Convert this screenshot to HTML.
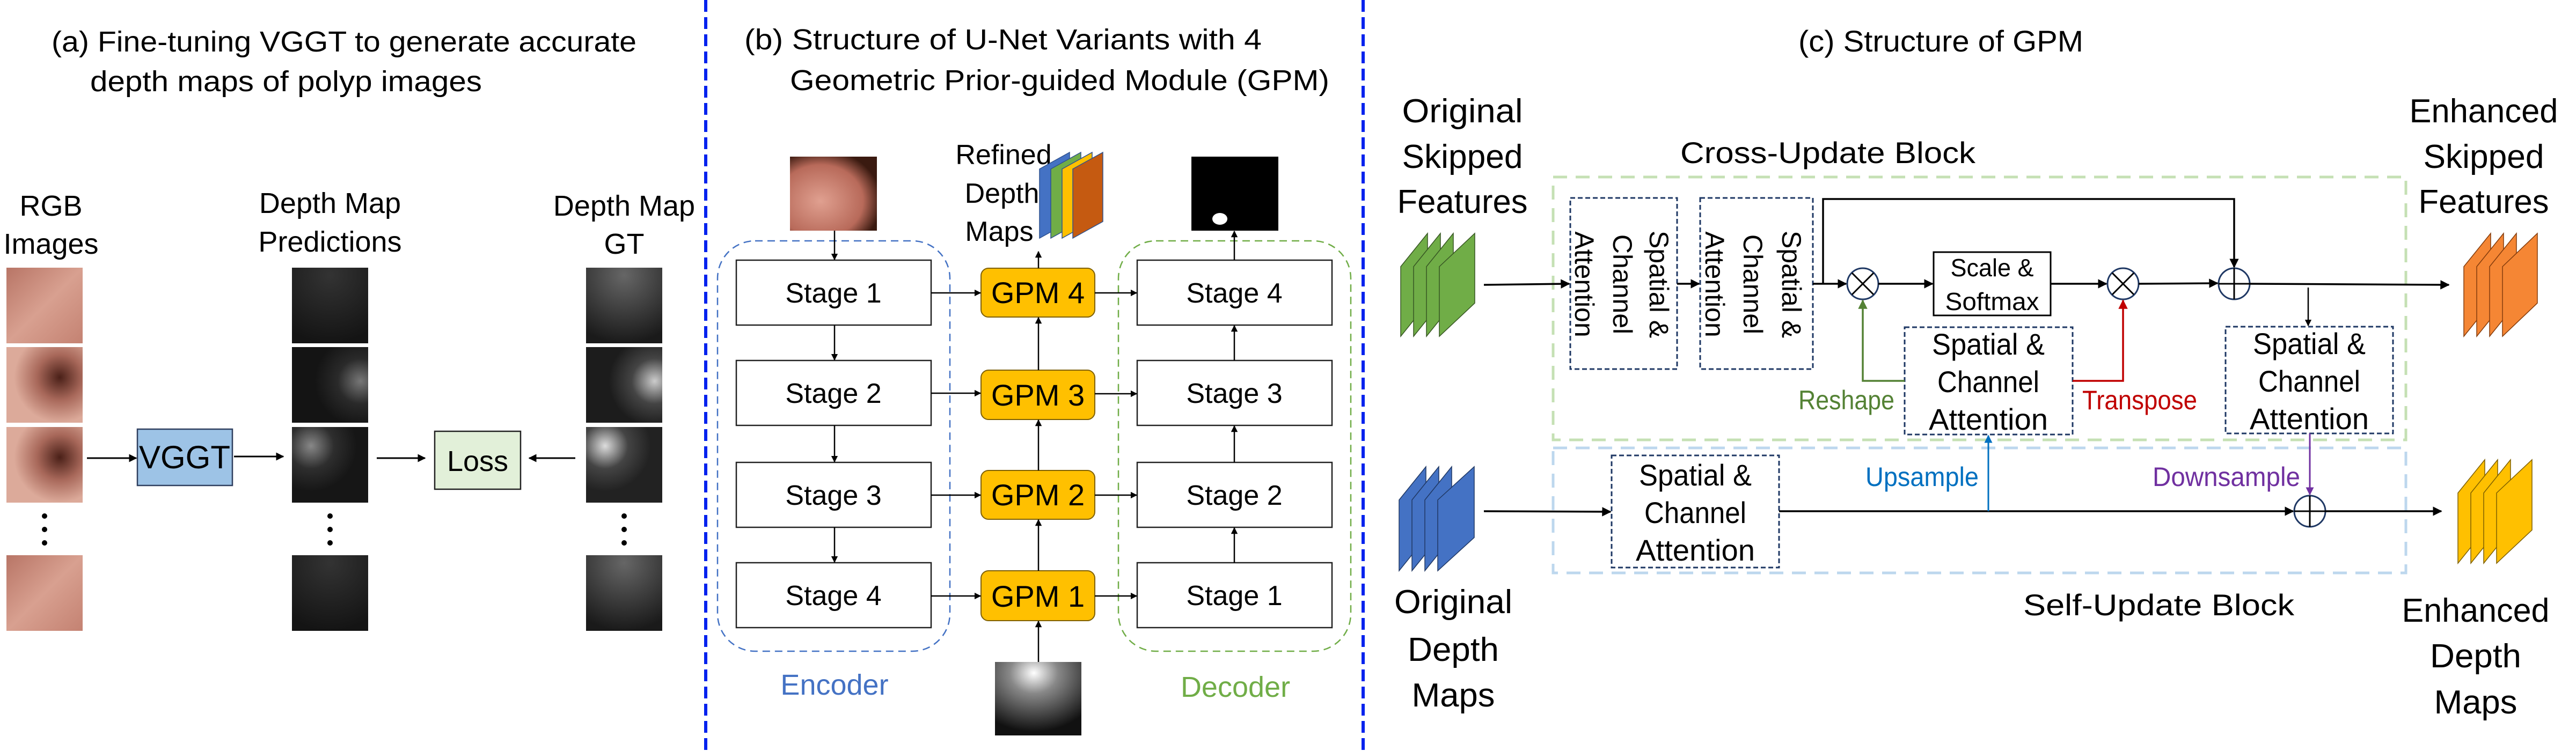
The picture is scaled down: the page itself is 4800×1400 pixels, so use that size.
<!DOCTYPE html>
<html><head><meta charset="utf-8"><style>html,body{margin:0;padding:0;background:#fff}svg{display:block}</style></head>
<body>
<svg width="4800" height="1400" viewBox="0 0 4800 1400" xmlns="http://www.w3.org/2000/svg" font-family="Liberation Sans, sans-serif">
<defs>
<marker id="ah" viewBox="0 0 10 10" refX="9" refY="5" markerWidth="5" markerHeight="5" orient="auto"><path d="M0,0L10,5L0,10z" fill="#000"/></marker>
<marker id="ahg" viewBox="0 0 10 10" refX="9" refY="5" markerWidth="5" markerHeight="5" orient="auto"><path d="M0,0L10,5L0,10z" fill="#548235"/></marker>
<marker id="ahr" viewBox="0 0 10 10" refX="9" refY="5" markerWidth="5" markerHeight="5" orient="auto"><path d="M0,0L10,5L0,10z" fill="#c00000"/></marker>
<marker id="ahb" viewBox="0 0 10 10" refX="9" refY="5" markerWidth="5" markerHeight="5" orient="auto"><path d="M0,0L10,5L0,10z" fill="#0070c0"/></marker>
<marker id="ahp" viewBox="0 0 10 10" refX="9" refY="5" markerWidth="5" markerHeight="5" orient="auto"><path d="M0,0L10,5L0,10z" fill="#7030a0"/></marker>
<linearGradient id="rgb" x1="0" y1="0" x2="1" y2="1"><stop offset="0" stop-color="#b87566"/><stop offset="0.5" stop-color="#d8a090"/><stop offset="1" stop-color="#c48272"/></linearGradient>
<radialGradient id="rgb2" cx="0.7" cy="0.4" r="0.6"><stop offset="0" stop-color="#4a2018"/><stop offset="0.5" stop-color="#a8685a"/><stop offset="1" stop-color="#dcaa9a"/></radialGradient>
<radialGradient id="d1" cx="0.5" cy="0.1" r="0.9"><stop offset="0" stop-color="#333"/><stop offset="1" stop-color="#141414"/></radialGradient>
<radialGradient id="d2" cx="0.9" cy="0.45" r="0.6"><stop offset="0" stop-color="#777"/><stop offset="0.5" stop-color="#2a2a2a"/><stop offset="1" stop-color="#141414"/></radialGradient>
<radialGradient id="d3" cx="0.25" cy="0.25" r="0.6"><stop offset="0" stop-color="#888"/><stop offset="0.5" stop-color="#2e2e2e"/><stop offset="1" stop-color="#161616"/></radialGradient>
<radialGradient id="g1" cx="0.5" cy="0.1" r="0.9"><stop offset="0" stop-color="#666"/><stop offset="1" stop-color="#1a1a1a"/></radialGradient>
<radialGradient id="g2" cx="0.9" cy="0.45" r="0.6"><stop offset="0" stop-color="#ccc"/><stop offset="0.5" stop-color="#444"/><stop offset="1" stop-color="#1c1c1c"/></radialGradient>
<radialGradient id="g3" cx="0.25" cy="0.25" r="0.6"><stop offset="0" stop-color="#ddd"/><stop offset="0.5" stop-color="#444"/><stop offset="1" stop-color="#222"/></radialGradient>
<radialGradient id="in" cx="0.35" cy="0.6" r="0.7"><stop offset="0" stop-color="#e0a090"/><stop offset="0.7" stop-color="#b86a5a"/><stop offset="1" stop-color="#3a1a10"/></radialGradient>
<radialGradient id="dp" cx="0.45" cy="0.15" r="0.8"><stop offset="0" stop-color="#fff"/><stop offset="0.35" stop-color="#888"/><stop offset="1" stop-color="#111"/></radialGradient>
</defs>

<line x1="1315" y1="0" x2="1315" y2="1400" stroke="#0022ee" stroke-width="6" stroke-dasharray="22,10"/>
<line x1="2540" y1="0" x2="2540" y2="1400" stroke="#0022ee" stroke-width="6" stroke-dasharray="22,10"/>

<!-- ===== Panel A ===== -->
<g font-size="54" fill="#000">
<text x="96" y="96" textLength="1090" lengthAdjust="spacingAndGlyphs">(a) Fine-tuning VGGT to generate accurate</text>
<text x="168" y="170" textLength="730" lengthAdjust="spacingAndGlyphs">depth maps of polyp images</text>
<g text-anchor="middle">
<text x="95" y="402">RGB</text><text x="95" y="473">Images</text>
<text x="615" y="397">Depth Map</text><text x="615" y="469">Predictions</text>
<text x="1163" y="402">Depth Map</text><text x="1163" y="473">GT</text>
</g>
</g>
<rect x="12" y="499" width="142" height="141" fill="url(#rgb)"/>
<rect x="12" y="647" width="142" height="141" fill="url(#rgb2)"/>
<rect x="12" y="796" width="142" height="141" fill="url(#rgb2)"/>
<rect x="12" y="1035" width="142" height="141" fill="url(#rgb)"/>
<rect x="544" y="499" width="142" height="141" fill="url(#d1)"/>
<rect x="544" y="647" width="142" height="141" fill="url(#d2)"/>
<rect x="544" y="796" width="142" height="141" fill="url(#d3)"/>
<rect x="544" y="1035" width="142" height="141" fill="url(#d1)"/>
<rect x="1092" y="499" width="142" height="141" fill="url(#g1)"/>
<rect x="1092" y="647" width="142" height="141" fill="url(#g2)"/>
<rect x="1092" y="796" width="142" height="141" fill="url(#g3)"/>
<rect x="1092" y="1035" width="142" height="141" fill="url(#g1)"/>
<g fill="#000">
<circle cx="83" cy="962" r="5"/><circle cx="83" cy="987" r="5"/><circle cx="83" cy="1012" r="5"/>
<circle cx="615" cy="962" r="5"/><circle cx="615" cy="987" r="5"/><circle cx="615" cy="1012" r="5"/>
<circle cx="1163" cy="962" r="5"/><circle cx="1163" cy="987" r="5"/><circle cx="1163" cy="1012" r="5"/>
</g>
<rect x="256" y="800" width="177" height="105" fill="#9dc3e6" stroke="#2f3f5f" stroke-width="2.5"/>
<text x="344" y="873" font-size="60" text-anchor="middle">VGGT</text>
<rect x="810" y="804" width="160" height="108" fill="#e2f0d9" stroke="#222" stroke-width="2.5"/>
<text x="890" y="878" font-size="54" text-anchor="middle">Loss</text>
<g stroke="#000" stroke-width="3" fill="none" marker-end="url(#ah)">
<line x1="162" y1="854" x2="254" y2="854"/>
<line x1="436" y1="851" x2="528" y2="851"/>
<line x1="702" y1="854" x2="792" y2="854"/>
<line x1="1072" y1="854" x2="986" y2="854"/>
</g>

<!-- ===== Panel B ===== -->
<text x="1387" y="92" font-size="54" textLength="964" lengthAdjust="spacingAndGlyphs">(b) Structure of U-Net Variants with 4</text>
<text x="1472" y="168" font-size="54" textLength="1005" lengthAdjust="spacingAndGlyphs">Geometric Prior-guided Module (GPM)</text>
<rect x="1472" y="292" width="162" height="138" fill="url(#in)"/>
<rect x="1337" y="449" width="433" height="765" rx="70" fill="none" stroke="#4472c4" stroke-width="2.5" stroke-dasharray="14,9"/>
<rect x="2084" y="449" width="433" height="765" rx="70" fill="none" stroke="#70ad47" stroke-width="2.5" stroke-dasharray="14,9"/>
<g fill="#fff" stroke="#222" stroke-width="2.5">
<rect x="1372" y="485" width="363" height="121"/><rect x="1372" y="672" width="363" height="121"/>
<rect x="1372" y="862" width="363" height="121"/><rect x="1372" y="1049" width="363" height="121"/>
<rect x="2119" y="485" width="363" height="121"/><rect x="2119" y="672" width="363" height="121"/>
<rect x="2119" y="862" width="363" height="121"/><rect x="2119" y="1049" width="363" height="121"/>
</g>
<g font-size="52" text-anchor="middle">
<text x="1553" y="564">Stage 1</text><text x="1553" y="751">Stage 2</text><text x="1553" y="941">Stage 3</text><text x="1553" y="1128">Stage 4</text>
<text x="2300" y="564">Stage 4</text><text x="2300" y="751">Stage 3</text><text x="2300" y="941">Stage 2</text><text x="2300" y="1128">Stage 1</text>
</g>
<g fill="#ffc000" stroke="#7f6000" stroke-width="2">
<rect x="1828" y="500" width="212" height="91" rx="14"/><rect x="1828" y="690" width="212" height="92" rx="14"/>
<rect x="1828" y="877" width="212" height="91" rx="14"/><rect x="1828" y="1064" width="212" height="93" rx="14"/>
</g>
<g font-size="56" text-anchor="middle">
<text x="1934" y="565">GPM 4</text><text x="1934" y="756">GPM 3</text><text x="1934" y="942">GPM 2</text><text x="1934" y="1131">GPM 1</text>
</g>
<g stroke="#000" stroke-width="2.5" fill="none" marker-end="url(#ah)">
<line x1="1555" y1="430" x2="1555" y2="484"/>
<line x1="1555" y1="606" x2="1555" y2="671"/><line x1="1555" y1="793" x2="1555" y2="861"/><line x1="1555" y1="983" x2="1555" y2="1048"/>
<line x1="1735" y1="546" x2="1827" y2="546"/><line x1="1735" y1="733" x2="1827" y2="733"/><line x1="1735" y1="923" x2="1827" y2="923"/><line x1="1735" y1="1111" x2="1827" y2="1111"/>
<line x1="2040" y1="546" x2="2118" y2="546"/><line x1="2040" y1="734" x2="2118" y2="734"/><line x1="2040" y1="923" x2="2118" y2="923"/><line x1="2040" y1="1111" x2="2118" y2="1111"/>
<line x1="1935" y1="1234" x2="1935" y2="1158"/><line x1="1935" y1="1064" x2="1935" y2="969"/><line x1="1935" y1="877" x2="1935" y2="783"/><line x1="1935" y1="690" x2="1935" y2="592"/>
<line x1="1935" y1="500" x2="1935" y2="469"/>
<line x1="2300" y1="1049" x2="2300" y2="984"/><line x1="2300" y1="862" x2="2300" y2="794"/><line x1="2300" y1="672" x2="2300" y2="607"/>
<line x1="2300" y1="485" x2="2300" y2="431"/>
</g>
<g font-size="52" text-anchor="middle">
<text x="1870" y="306">Refined</text><text x="1867" y="378">Depth</text><text x="1862" y="449">Maps</text>
</g>
<g stroke="#2f528f" stroke-width="1.5">
<polygon points="1937,315 1993,284 1993,413 1937,444" fill="#4472c4"/>
<polygon points="1958,315 2014,284 2014,413 1958,444" fill="#70ad47"/>
<polygon points="1979,315 2035,284 2035,413 1979,444" fill="#ffc000"/>
<polygon points="1999,315 2055,284 2055,413 1999,444" fill="#c55a11"/>
</g>
<rect x="2220" y="292" width="162" height="138" fill="#000"/>
<ellipse cx="2273" cy="408" rx="14" ry="11" fill="#fff"/>
<rect x="1854" y="1234" width="161" height="137" fill="url(#dp)"/>
<text x="1555" y="1295" font-size="54" fill="#4472c4" text-anchor="middle">Encoder</text>
<text x="2302" y="1299" font-size="54" fill="#70ad47" text-anchor="middle">Decoder</text>

<!-- ===== Panel C ===== -->
<g font-size="56">
<text x="3351" y="96" textLength="531" lengthAdjust="spacingAndGlyphs">(c) Structure of GPM</text>
<text x="3131" y="304" textLength="550" lengthAdjust="spacingAndGlyphs">Cross-Update Block</text>
<text x="3770" y="1147" textLength="505" lengthAdjust="spacingAndGlyphs">Self-Update Block</text>
</g>
<g font-size="62" text-anchor="middle">
<text x="2725" y="228" textLength="225" lengthAdjust="spacingAndGlyphs">Original</text>
<text x="2725" y="313" textLength="225" lengthAdjust="spacingAndGlyphs">Skipped</text>
<text x="2725" y="397" textLength="243" lengthAdjust="spacingAndGlyphs">Features</text>
<text x="4628" y="228" textLength="277" lengthAdjust="spacingAndGlyphs">Enhanced</text>
<text x="4628" y="313" textLength="225" lengthAdjust="spacingAndGlyphs">Skipped</text>
<text x="4628" y="397" textLength="243" lengthAdjust="spacingAndGlyphs">Features</text>
<text x="2708" y="1143" textLength="220" lengthAdjust="spacingAndGlyphs">Original</text>
<text x="2708" y="1232" textLength="170" lengthAdjust="spacingAndGlyphs">Depth</text>
<text x="2708" y="1317" textLength="155" lengthAdjust="spacingAndGlyphs">Maps</text>
<text x="4613" y="1159" textLength="275" lengthAdjust="spacingAndGlyphs">Enhanced</text>
<text x="4613" y="1244" textLength="170" lengthAdjust="spacingAndGlyphs">Depth</text>
<text x="4613" y="1330" textLength="155" lengthAdjust="spacingAndGlyphs">Maps</text>
</g>
<g stroke="#375623" stroke-width="1.5" fill="#70ad47">
<polygon points="2610,497 2660,435 2660,565 2610,627"/><polygon points="2634,497 2684,435 2684,565 2634,627"/>
<polygon points="2658,497 2708,435 2708,565 2658,627"/><polygon points="2682,497 2748,435 2748,565 2682,627"/>
</g>
<g stroke="#843c0c" stroke-width="1.5" fill="#f58634">
<polygon points="4591,497 4641,435 4641,565 4591,627"/><polygon points="4615,497 4665,435 4665,565 4615,627"/>
<polygon points="4639,497 4689,435 4689,565 4639,627"/><polygon points="4663,497 4728,435 4728,565 4663,627"/>
</g>
<g stroke="#203864" stroke-width="1.5" fill="#4472c4">
<polygon points="2607,932 2657,870 2657,1002 2607,1064"/><polygon points="2631,932 2681,870 2681,1002 2631,1064"/>
<polygon points="2655,932 2705,870 2705,1002 2655,1064"/><polygon points="2679,932 2747,870 2747,1002 2679,1064"/>
</g>
<g stroke="#7f6000" stroke-width="1.5" fill="#ffc000">
<polygon points="4580,919 4630,857 4630,988 4580,1050"/><polygon points="4604,919 4654,857 4654,988 4604,1050"/>
<polygon points="4628,919 4678,857 4678,988 4628,1050"/><polygon points="4652,919 4718,857 4718,988 4652,1050"/>
</g>
<rect x="2894" y="330" width="1589" height="490" fill="none" stroke="#c5e0b4" stroke-width="5" stroke-dasharray="26,16"/>
<rect x="2894" y="835" width="1589" height="233" fill="none" stroke="#bdd7ee" stroke-width="5" stroke-dasharray="26,16"/>
<g fill="#fff" stroke="#1f3864" stroke-width="3" stroke-dasharray="9,5">
<rect x="2926" y="369" width="199" height="319"/><rect x="3168" y="369" width="210" height="319"/>
<rect x="3549" y="610" width="313" height="200"/><rect x="4147" y="609" width="312" height="199"/>
<rect x="3003" y="849" width="312" height="209"/>
</g>
<g font-size="50" text-anchor="middle">
<text transform="translate(3074,530) rotate(90)">Spatial &amp;</text>
<text transform="translate(3006,530) rotate(90)">Channel</text>
<text transform="translate(2935,530) rotate(90)">Attention</text>
<text transform="translate(3321,530) rotate(90)">Spatial &amp;</text>
<text transform="translate(3249,530) rotate(90)">Channel</text>
<text transform="translate(3178,530) rotate(90)">Attention</text>
</g>
<g font-size="56" text-anchor="middle">
<text x="3705" y="661" textLength="210" lengthAdjust="spacingAndGlyphs">Spatial &amp;</text>
<text x="3705" y="731" textLength="190" lengthAdjust="spacingAndGlyphs">Channel</text>
<text x="3705" y="801" textLength="222" lengthAdjust="spacingAndGlyphs">Attention</text>
<text x="4303" y="660" textLength="210" lengthAdjust="spacingAndGlyphs">Spatial &amp;</text>
<text x="4303" y="730" textLength="190" lengthAdjust="spacingAndGlyphs">Channel</text>
<text x="4303" y="800" textLength="222" lengthAdjust="spacingAndGlyphs">Attention</text>
<text x="3159" y="905" textLength="210" lengthAdjust="spacingAndGlyphs">Spatial &amp;</text>
<text x="3159" y="975" textLength="190" lengthAdjust="spacingAndGlyphs">Channel</text>
<text x="3159" y="1045" textLength="222" lengthAdjust="spacingAndGlyphs">Attention</text>
</g>
<rect x="3603" y="470" width="218" height="118" fill="#fff" stroke="#000" stroke-width="3"/>
<text x="3712" y="515" font-size="46" text-anchor="middle" textLength="155" lengthAdjust="spacingAndGlyphs">Scale &amp;</text>
<text x="3712" y="578" font-size="46" text-anchor="middle" textLength="175" lengthAdjust="spacingAndGlyphs">Softmax</text>
<g fill="#fff" stroke="#1f3864" stroke-width="3">
<circle cx="3471" cy="529" r="29"/><circle cx="3956" cy="529" r="29"/><circle cx="4163" cy="529" r="29"/><circle cx="4304" cy="953" r="29"/>
</g>
<g stroke="#000" stroke-width="3">
<line x1="3451" y1="509" x2="3491" y2="549"/><line x1="3491" y1="509" x2="3451" y2="549"/>
<line x1="3936" y1="509" x2="3976" y2="549"/><line x1="3976" y1="509" x2="3936" y2="549"/>
<line x1="4134" y1="529" x2="4192" y2="529"/><line x1="4163" y1="500" x2="4163" y2="558"/>
<line x1="4275" y1="953" x2="4333" y2="953"/><line x1="4304" y1="924" x2="4304" y2="982"/>
</g>
<g stroke="#000" stroke-width="3.5" fill="none" marker-end="url(#ah)">
<line x1="2765" y1="531" x2="2924" y2="529"/>
<line x1="3125" y1="529" x2="3166" y2="529"/>
<line x1="3378" y1="529" x2="3440" y2="529"/>
<line x1="3500" y1="529" x2="3601" y2="529"/>
<line x1="3821" y1="529" x2="3925" y2="529"/>
<line x1="3985" y1="529" x2="4132" y2="528"/>
<polyline points="3397,529 3397,371 4163,371 4163,498"/>
<line x1="4192" y1="529" x2="4563" y2="531"/>
<line x1="2765" y1="953" x2="3001" y2="954"/>
<line x1="3315" y1="953" x2="4273" y2="953"/>
<line x1="4333" y1="953" x2="4549" y2="953"/>
</g>
<line x1="4301" y1="536" x2="4301" y2="607" stroke="#000" stroke-width="2.5" marker-end="url(#ah)"/>
<polyline points="3549,710 3471,710 3471,560" stroke="#548235" stroke-width="3.5" fill="none" marker-end="url(#ahg)"/>
<polyline points="3862,710 3956,710 3956,560" stroke="#c00000" stroke-width="3.5" fill="none" marker-end="url(#ahr)"/>
<line x1="3705" y1="953" x2="3705" y2="812" stroke="#0070c0" stroke-width="3" marker-end="url(#ahb)"/>
<line x1="4304" y1="808" x2="4304" y2="922" stroke="#7030a0" stroke-width="3" marker-end="url(#ahp)"/>
<g font-size="50">
<text x="3351" y="763" fill="#548235" textLength="179" lengthAdjust="spacingAndGlyphs">Reshape</text>
<text x="3880" y="763" fill="#c00000" textLength="214" lengthAdjust="spacingAndGlyphs">Transpose</text>
<text x="3476" y="906" fill="#0070c0" textLength="211" lengthAdjust="spacingAndGlyphs">Upsample</text>
<text x="4011" y="906" fill="#7030a0" textLength="275" lengthAdjust="spacingAndGlyphs">Downsample</text>
</g>
</svg>
</body></html>
